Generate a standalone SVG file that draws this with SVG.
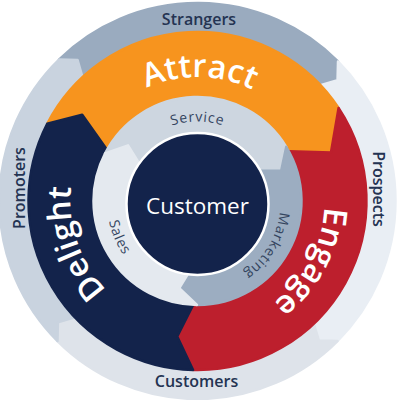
<svg xmlns="http://www.w3.org/2000/svg" width="400" height="400" viewBox="0 0 400 400">
<style>
.seg{stroke-width:2.5;stroke-linejoin:round}
.outer{font-family:"Open Sans","Noto Sans",sans-serif;font-weight:600;font-size:16px;fill:#243352}
.big{font-family:"Open Sans","Noto Sans",sans-serif;font-weight:600;font-size:32.5px;fill:#ffffff}
.inner{font-family:"Open Sans","Noto Sans",sans-serif;font-weight:500;font-size:14px;fill:#34455f;letter-spacing:0.8px}
</style>
<defs>
<path id="pAttract" d="M 91.21,137.14 A 124 124 0 0 1 305.95,140.88"/>
<path id="pEngage" d="M 305.20,133.70 A 127 127 0 0 1 201.93,327.92"/>
<path id="pDelight" d="M 173.27,325.66 A 127 127 0 0 1 101.65,117.68"/>
<path id="pService" d="M 126.05,162.75 A 82.5 82.5 0 0 1 268.95,162.75"/>
<path id="pMarketing" d="M 269.65,164.00 A 82.5 82.5 0 0 1 196.06,286.49"/>
<path id="pSales" d="M 125.62,149.84 A 90 90 0 0 0 186.53,293.33"/>
</defs>
<rect width="400" height="400" fill="#ffffff"/>
<g id="strangers">
<path class="seg" fill="#9aabbf" stroke="#9aabbf" d="M 58.96,59.53 A 198 198 0 0 1 338.00,61.49 L 337.55,80.12 L 320.50,85.10 A 169 169 0 0 0 82.46,77.21 L 77.60,60.12 Z"/>
<text class="outer" x="199" y="25" text-anchor="middle">Strangers</text>
</g>
<g id="prospects">
<path class="seg" fill="#e9eef4" stroke="#e9eef4" d="M 338.00,61.49 A 198 198 0 0 1 337.51,341.01 L 318.88,340.62 L 313.84,323.59 A 169 169 0 0 0 320.50,85.10 L 337.55,80.12 Z"/>
<text class="outer" transform="translate(372.5,189) rotate(90)" text-anchor="middle">Prospects</text>
</g>
<g id="customers">
<path class="seg" fill="#dee3ea" stroke="#dee3ea" d="M 337.51,341.01 A 198 198 0 0 1 57.49,341.01 L 57.88,322.38 L 74.91,317.34 A 169 169 0 0 0 313.84,323.59 L 318.88,340.62 Z"/>
<text class="outer" x="196.5" y="387" text-anchor="middle">Customers</text>
</g>
<g id="promoters">
<path class="seg" fill="#c9d3df" stroke="#c9d3df" d="M 57.49,341.01 A 198 198 0 0 1 58.96,59.53 L 77.60,60.12 L 82.46,77.21 A 169 169 0 0 0 74.91,317.34 L 57.88,322.38 Z"/>
<text class="outer" transform="translate(25,188) rotate(-90)" text-anchor="middle">Promoters</text>
</g>
<g id="attract">
<path class="seg" fill="#f7941e" stroke="#f7941e" d="M 47.19,123.75 A 169 169 0 0 1 338.58,107.97 L 330.94,152.43 L 288.81,151.22 A 104 104 0 0 0 106.98,149.79 L 82.20,114.74 Z"/>
<text class="big"><textPath href="#pAttract" startOffset="50%" text-anchor="middle">Attract</textPath></text>
</g>
<g id="engage">
<path class="seg" fill="#bd1f2d" stroke="#bd1f2d" d="M 338.58,107.97 A 169 169 0 0 1 193.08,369.94 L 177.25,336.49 L 193.14,304.91 A 104 104 0 0 0 288.81,151.22 L 330.94,152.43 Z"/>
<text class="big"><textPath href="#pEngage" startOffset="50%" text-anchor="middle">Engage</textPath></text>
</g>
<g id="delight">
<path class="seg" fill="#13234b" stroke="#13234b" d="M 193.08,369.94 A 169 169 0 0 1 47.19,123.75 L 82.20,114.74 L 106.98,149.79 A 104 104 0 0 0 193.14,304.91 L 177.25,336.49 Z"/>
<text class="big"><textPath href="#pDelight" startOffset="50%" text-anchor="middle">Delight</textPath></text>
</g>
<g id="service">
<path class="seg" fill="#cdd6e0" stroke="#cdd6e0" d="M 105.00,153.46 A 104 104 0 0 1 286.27,146.82 L 281.19,170.70 L 258.41,170.77 A 68 68 0 0 0 139.96,164.76 L 128.04,145.36 Z"/>
<text class="inner"><textPath href="#pService" startOffset="50%" text-anchor="middle">Service</textPath></text>
</g>
<g id="marketing">
<path class="seg" fill="#9cadc1" stroke="#9cadc1" d="M 286.27,146.82 A 104 104 0 0 1 196.96,305.00 L 179.30,288.12 L 191.22,268.71 A 68 68 0 0 0 258.41,170.77 L 281.19,170.70 Z"/>
<text class="inner"><textPath href="#pMarketing" startOffset="50%" text-anchor="middle">Marketing</textPath></text>
</g>
<g id="sales">
<path class="seg" fill="#e4e9ef" stroke="#e4e9ef" d="M 196.96,305.00 A 104 104 0 0 1 105.00,153.46 L 128.04,145.36 L 139.96,164.76 A 68 68 0 0 0 191.22,268.71 L 179.30,288.12 Z"/>
<text class="inner"><textPath href="#pSales" startOffset="50%" text-anchor="middle">Sales</textPath></text>
</g>
<g id="customer">
<circle cx="197.5" cy="204" r="71" fill="#13234b" stroke="#ffffff" stroke-width="2.5"/>
<text x="197.5" y="213.5" text-anchor="middle" font-family="Open Sans, Noto Sans, sans-serif" font-weight="500" font-size="22.5" fill="#ffffff">Customer</text>
</g>
<g id="connectors"></g>
</svg>
